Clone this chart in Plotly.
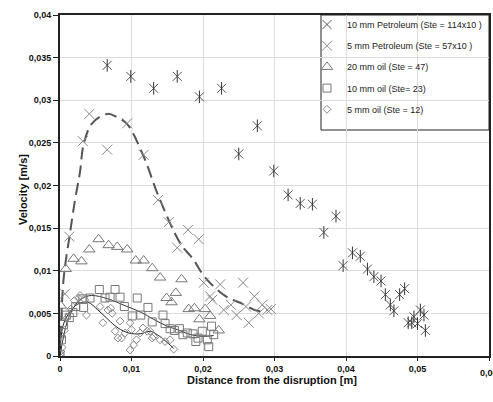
import plotly.graph_objects as go

# ---------------- data ----------------
pet10_x = [0.0066, 0.0099, 0.0131, 0.0164, 0.0195, 0.0226, 0.0250, 0.0276, 0.0299, 0.0319,
           0.0336, 0.0353, 0.0369, 0.0386, 0.0396, 0.0409, 0.0420, 0.0430, 0.0439, 0.0449,
           0.0455, 0.0462, 0.0467, 0.0475, 0.0482, 0.0487, 0.0492, 0.0495, 0.0500, 0.0504,
           0.0509, 0.0511]
pet10_y = [0.0341, 0.0328, 0.0314, 0.0328, 0.0304, 0.0314, 0.0237, 0.0270, 0.0217, 0.0189,
           0.0179, 0.0178, 0.0145, 0.0164, 0.0106, 0.0121, 0.0117, 0.0102, 0.0093, 0.0088,
           0.0072, 0.0060, 0.0053, 0.0072, 0.0079, 0.0039, 0.0039, 0.0046, 0.0038, 0.0054,
           0.0048, 0.0030]

pet5_x = [0.0000, 0.0007, 0.0013, 0.0032, 0.0041, 0.0066, 0.0094, 0.0117, 0.0137, 0.0152,
          0.0164, 0.0179, 0.0194, 0.0201, 0.0210, 0.0213, 0.0224, 0.0229, 0.0239, 0.0247,
          0.0256, 0.0260, 0.0264, 0.0272, 0.0278, 0.0283, 0.0290, 0.0295]
pet5_y = [0.0000, 0.0073, 0.0140, 0.0252, 0.0284, 0.0242, 0.0273, 0.0236, 0.0183, 0.0157,
          0.0127, 0.0148, 0.0137, 0.0086, 0.0070, 0.0066, 0.0084, 0.0054, 0.0060, 0.0048,
          0.0086, 0.0058, 0.0039, 0.0070, 0.0050, 0.0060, 0.0054, 0.0055]

oil20_x = [0.0000, 0.0001, 0.0008, 0.0019, 0.0030, 0.0041, 0.0054, 0.0068, 0.0080, 0.0094,
           0.0106, 0.0117, 0.0129, 0.0140, 0.0149, 0.0156, 0.0162, 0.0170, 0.0180, 0.0188,
           0.0195, 0.0203, 0.0210, 0.0222]
oil20_y = [0.0025, 0.0059, 0.0102, 0.0114, 0.0111, 0.0125, 0.0137, 0.0130, 0.0128, 0.0125,
           0.0112, 0.0112, 0.0103, 0.0092, 0.0068, 0.0063, 0.0074, 0.0090, 0.0055, 0.0056,
           0.0043, 0.0055, 0.0047, 0.0030]

oil10_x = [0.0000, 0.0002, 0.0005, 0.0009, 0.0013, 0.0018, 0.0022, 0.0032, 0.0033, 0.0042,
           0.0055, 0.0063, 0.0070, 0.0077, 0.0084, 0.0090, 0.0101, 0.0108, 0.0113, 0.0123,
           0.0129, 0.0144, 0.0147, 0.0154, 0.0160, 0.0167, 0.0172, 0.0178, 0.0186, 0.0190,
           0.0193, 0.0199, 0.0206, 0.0208, 0.0212, 0.0215]
oil10_y = [0.0002, 0.0019, 0.0037, 0.0048, 0.0045, 0.0051, 0.0058, 0.0067, 0.0057, 0.0068,
           0.0078, 0.0068, 0.0069, 0.0078, 0.0069, 0.0058, 0.0047, 0.0068, 0.0048, 0.0057,
           0.0040, 0.0048, 0.0038, 0.0032, 0.0030, 0.0032, 0.0025, 0.0027, 0.0026, 0.0017,
           0.0021, 0.0029, 0.0019, 0.0011, 0.0035, 0.0025]

oil5_x = [0.0000, 0.0003, 0.0006, 0.0010, 0.0015, 0.0020, 0.0026, 0.0028, 0.0035, 0.0037,
          0.0056, 0.0060, 0.0067, 0.0071, 0.0073, 0.0077, 0.0081, 0.0084, 0.0086, 0.0091,
          0.0098, 0.0098, 0.0100, 0.0103, 0.0107, 0.0112, 0.0116, 0.0122, 0.0126, 0.0129,
          0.0131, 0.0140, 0.0147, 0.0154, 0.0159]
oil5_y = [0.0002, 0.0010, 0.0030, 0.0045, 0.0055, 0.0065, 0.0068, 0.0071, 0.0066, 0.0048,
          0.0058, 0.0039, 0.0054, 0.0056, 0.0050, 0.0029, 0.0021, 0.0041, 0.0021, 0.0027,
          0.0039, 0.0007, 0.0031, 0.0013, 0.0019, 0.0027, 0.0033, 0.0029, 0.0029, 0.0021,
          0.0023, 0.0019, 0.0017, 0.0019, 0.0008]

# trend lines
trend_pet5_x = [0.0000, 0.0005, 0.0014, 0.0021, 0.0028, 0.0033, 0.0045, 0.0066, 0.0080,
                0.0094, 0.0117, 0.0138, 0.0169, 0.0185, 0.0204, 0.0232, 0.0253, 0.0276, 0.0290]
trend_pet5_y = [0.0000, 0.0090, 0.0144, 0.0183, 0.0216, 0.0248, 0.0273, 0.0284, 0.0280,
                0.0272, 0.0234, 0.0187, 0.0131, 0.0115, 0.0091, 0.0070, 0.0062, 0.0053, 0.0054]

trend_oil10_x = [0.0000, 0.0010, 0.0020, 0.0030, 0.0044, 0.0067, 0.0091, 0.0114, 0.0131,
                 0.0150, 0.0164, 0.0183, 0.0200, 0.0215]
trend_oil10_y = [0.0000, 0.0040, 0.0058, 0.0067, 0.0071, 0.0067, 0.0059, 0.0051, 0.0043,
                 0.0035, 0.0031, 0.0025, 0.0023, 0.0024]

trend_oil5_x = [0.0000, 0.0004, 0.0014, 0.0025, 0.0039, 0.0053, 0.0067, 0.0081, 0.0096,
                0.0112, 0.0126, 0.0136, 0.0147, 0.0159]
trend_oil5_y = [0.0000, 0.0035, 0.0052, 0.0061, 0.0063, 0.0054, 0.0043, 0.0033, 0.0027,
                0.0026, 0.0029, 0.0025, 0.0018, 0.0009]

names = ["10 mm Petroleum (Ste = 114x10 )", "5 mm Petroleum (Ste = 57x10 )",
         "20 mm oil (Ste = 47)", "10 mm oil (Ste= 23)", "5 mm oil (Ste = 12)"]

x_ticks = [0, 0.01, 0.02, 0.03, 0.04, 0.05, 0.06]
y_ticks = [0, 0.005, 0.01, 0.015, 0.02, 0.025, 0.03, 0.035, 0.04]

# ---------------- figure ----------------
fig = go.Figure()

# trend lines (behind markers)
fig.add_trace(go.Scatter(x=trend_pet5_x, y=trend_pet5_y, mode="lines", showlegend=False,
                         line=dict(color="#555555", width=2, dash="12px,6px", shape="spline"),
                         hoverinfo="skip"))
fig.add_trace(go.Scatter(x=trend_oil10_x, y=trend_oil10_y, mode="lines", showlegend=False,
                         line=dict(color="#333333", width=1, shape="spline"), hoverinfo="skip"))
fig.add_trace(go.Scatter(x=trend_oil5_x, y=trend_oil5_y, mode="lines", showlegend=False,
                         line=dict(color="#222222", width=1, shape="spline"), hoverinfo="skip"))

# series
fig.add_trace(go.Scatter(x=pet10_x, y=pet10_y, mode="markers", name=names[0], legendgroup="a",
                         marker=dict(symbol="x-thin-open", size=9, color="#555555",
                                     line=dict(color="#555555", width=1))))
fig.add_trace(go.Scatter(x=pet10_x, y=pet10_y, mode="markers", showlegend=False, legendgroup="a",
                         marker=dict(symbol="line-ns-open", size=9, color="#333333",
                                     line=dict(color="#333333", width=1))))
fig.add_trace(go.Scatter(x=pet5_x, y=pet5_y, mode="markers", name=names[1], legendgroup="b",
                         marker=dict(symbol="x-thin-open", size=10, color="#888888",
                                     line=dict(color="#888888", width=1))))
fig.add_trace(go.Scatter(x=oil20_x, y=oil20_y, mode="markers", name=names[2], legendgroup="c",
                         marker=dict(symbol="triangle-up-open", size=10, color="#777777",
                                     line=dict(width=1))))
fig.add_trace(go.Scatter(x=oil10_x, y=oil10_y, mode="markers", name=names[3], legendgroup="d",
                         marker=dict(symbol="square-open", size=8, color="#777777",
                                     line=dict(width=1))))
fig.add_trace(go.Scatter(x=oil5_x, y=oil5_y, mode="markers", name=names[4], legendgroup="e",
                         marker=dict(symbol="diamond-open", size=6, color="#888888",
                                     line=dict(width=1))))

tickfont = dict(family="Liberation Sans, Arial, sans-serif", size=9, color="#111111", weight="bold")

fig.update_layout(
    width=493, height=402,
    margin=dict(l=60, r=4, t=15, b=46, autoexpand=False),
    paper_bgcolor="white", plot_bgcolor="white",
    separators=",.",
    font=dict(family="Liberation Sans, Arial, sans-serif", color="#111111"),
    xaxis=dict(range=[0, 0.06], tickvals=x_ticks, showgrid=True, gridcolor="#dcdcdc", gridwidth=1,
               zeroline=False, showline=True, linecolor="#222222", linewidth=2, mirror=True,
               ticks="outside", ticklen=3, tickcolor="#222222", tickfont=tickfont),
    yaxis=dict(range=[0, 0.04], tickvals=y_ticks, showgrid=True, gridcolor="#dcdcdc", gridwidth=1,
               zeroline=False, showline=True, linecolor="#222222", linewidth=2, mirror=True,
               ticks="outside", ticklen=5, tickcolor="#222222", tickfont=tickfont),
    legend=dict(x=(307 - 60) / 429, y=1 + 5 / 341, xanchor="left", yanchor="top",
                bgcolor="rgba(0,0,0,0)", borderwidth=0, itemwidth=30,
                tracegroupgap=2.2,
                font=dict(family="Liberation Sans, Arial, sans-serif", size=9, color="#222222")),
    shapes=[dict(type="rect", xref="paper", yref="paper",
                 x0=(321 - 60) / 429, x1=1.0, y0=(356 - 130) / 341, y1=1.0,
                 line=dict(color="#222222", width=1), fillcolor="white", layer="below")],
    annotations=[
        dict(text="Distance from the disruption [m]", xref="paper", yref="paper",
             x=(272 - 60) / 429, y=(356 - 388) / 341, showarrow=False,
             font=dict(size=11, weight="bold", color="#111111")),
        dict(text="Velocity [m/s]", xref="paper", yref="paper",
             x=(15 - 60) / 429, y=(356 - 190) / 341, showarrow=False, textangle=-90,
             font=dict(size=11, weight="bold", color="#111111")),
        dict(text="0,06", xref="x", yref="paper", x=0.06, y=(356 - 373) / 341,
             showarrow=False, xanchor="center", yanchor="middle", font=tickfont),
    ],
)

fig.write_html("out.html")
